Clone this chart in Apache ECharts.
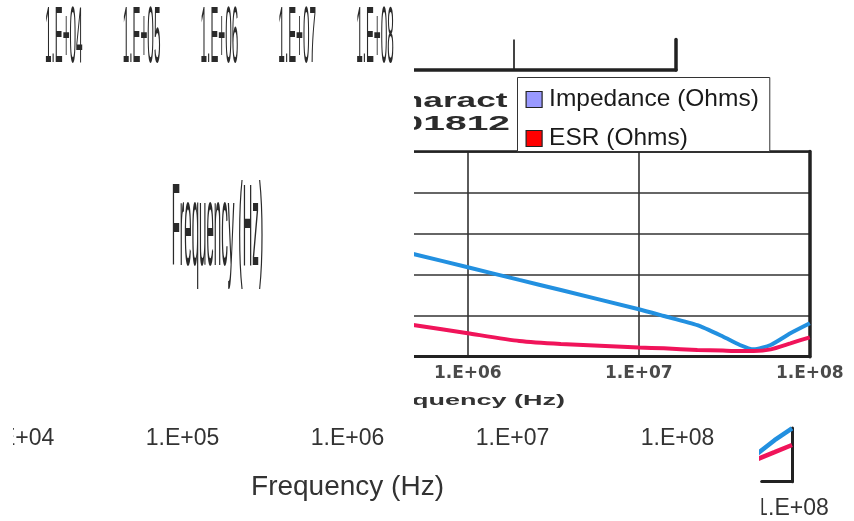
<!DOCTYPE html>
<html><head><meta charset="utf-8">
<script src="https://cdn.jsdelivr.net/npm/echarts@6/dist/echarts.min.js"></script>
<style>html,body{margin:0;padding:0;background:#fff}#c{width:854px;height:521px}</style>
</head><body><div id="c"></div>
<script>
// ---- data ----
const freqHz        = [4.8e5, 1e6, 2e6, 3.5e6, 1e7, 1.4e7, 2.2e7, 3.1e7, 3.9e7, 4.7e7, 5.9e7, 7.7e7, 1e8];
const impedanceOhms = [3.18, 1.51, 0.743, 0.422, 0.143, 0.098, 0.0586, 0.031, 0.0193, 0.0151, 0.0193, 0.0372, 0.0651];
const esrOhms       = [0.0592, 0.0372, 0.0241, 0.0204, 0.0168, 0.0160, 0.0146, 0.0141, 0.0138, 0.0138, 0.0151, 0.0212, 0.0297];
const seriesNames   = ['Impedance (Ohms)', 'ESR (Ohms)'];
const decadeLabels  = ['1.E+04', '1.E+05', '1.E+06', '1.E+07', '1.E+08'];
const axisTitle     = 'Frequency (Hz)';
const titleFragments = ['haract', '01812'];

const FONT = 'Liberation Sans, Arial, sans-serif';
const BLUE = '#2290e0', RED = '#f0145a';

function decadeLabel(v) {
  const l = Math.log10(v), e = Math.round(l);
  if (Math.abs(l - e) > 1e-6) return '';
  return decadeLabels[e - 4] || '';
}
const pairs = arr => freqHz.map((f, i) => [f, arr[i]]);
const off = { show: false };

const chart = echarts.init(document.getElementById('c'), null, { renderer: 'canvas' });

const squashed = decadeLabels.map((t, i) => ({
  type: 'text', x: 63.8 + i * 77.8, y: 40.5, scaleX: 0.513, scaleY: 3.45, z: 20,
  style: { text: t, fontSize: 23, fontFamily: FONT, fill: '#2a2a2a', align: 'center', verticalAlign: 'middle' }
}));

chart.setOption({
  animation: false,
  backgroundColor: '#fff',
  grid: [
    { left: 296.8, right: 44.2, top: 151.5, bottom: 164.3, outerBoundsMode: 'none', containLabel: false },
    { left: 17.5, right: 176.5, top: 415, bottom: 96, outerBoundsMode: 'none', containLabel: false },
    { left: 761.7, right: 62, top: 428, bottom: 39.3, outerBoundsMode: 'none', containLabel: false },
    { left: 414, right: 178, top: 39.5, bottom: 451, outerBoundsMode: 'none', containLabel: false }
  ],
  xAxis: [
    { gridIndex: 0, type: 'log', min: 1e5, max: 1e8, splitNumber: 3,
      axisLine: { show: true, lineStyle: { color: '#222', width: 3 } }, axisTick: off,
      axisLabel: { formatter: decadeLabel, fontSize: 17, fontWeight: 'bold', fontFamily: 'DejaVu Sans', color: '#4a4a4a', margin: 8 },
      splitLine: { show: true, showMaxLine: false, lineStyle: { color: '#333', width: 1.6 } } },
    { gridIndex: 0, type: 'log', min: 1e5, max: 1e8, position: 'top',
      axisLine: { show: true, lineStyle: { color: '#222', width: 2.5 } }, axisTick: off, axisLabel: off, splitLine: off },
    { gridIndex: 1, type: 'log', min: 1e4, max: 1e8, splitNumber: 4,
      axisLine: off, axisTick: off, splitLine: off,
      axisLabel: { formatter: decadeLabel, fontSize: 23, fontFamily: FONT, color: '#333', margin: 2 },
      name: axisTitle, nameLocation: 'middle', nameGap: 48,
      nameTextStyle: { fontSize: 28, fontFamily: FONT, color: '#333' } },
    { gridIndex: 2, type: 'log', min: 6.35e7, max: 1e8,
      axisLine: { show: true, lineStyle: { color: '#222', width: 3 } }, axisTick: off, splitLine: off,
      axisLabel: { formatter: decadeLabel, showMinLabel: false, fontSize: 23, fontFamily: FONT, color: '#333', margin: 15 } },
    { gridIndex: 3, type: 'log', min: 41783, max: 417830, position: 'top',
      axisLine: { show: true, lineStyle: { color: '#222', width: 3.5 } }, axisTick: off, axisLabel: off,
      splitLine: { show: true, showMinLine: false, showMaxLine: false, lineStyle: { color: '#444', width: 2 } } }
  ],
  yAxis: [
    { gridIndex: 0, type: 'log', min: 0.01, max: 1000, splitNumber: 5, position: 'right',
      axisLine: { show: true, lineStyle: { color: '#222', width: 3.5 } }, axisTick: off, axisLabel: off,
      splitLine: { show: true, showMinLine: false, lineStyle: { color: '#333', width: 1.6 } } },
    { gridIndex: 1, type: 'value', show: false },
    { gridIndex: 2, type: 'log', min: 0.0053, max: 0.066, position: 'right',
      axisLine: { show: true, lineStyle: { color: '#222', width: 3 } }, axisTick: off, axisLabel: off, splitLine: off },
    { gridIndex: 3, type: 'value', min: 0, max: 1, position: 'right',
      axisLine: { show: true, lineStyle: { color: '#222', width: 3.5 } }, axisTick: off, axisLabel: off, splitLine: off }
  ],
  legend: {
    orient: 'vertical', left: 517.5, top: 77.5, padding: [9, 11, 0, 8], itemGap: 13,
    itemWidth: 16, itemHeight: 16, icon: 'rect',
    backgroundColor: '#fff', borderColor: '#333', borderWidth: 1, z: 30,
    textStyle: { fontSize: 24.5, lineHeight: 26, fontFamily: FONT, color: '#1a1a1a', padding: [0, 0, 0, 2] },
    data: [
      { name: seriesNames[0], itemStyle: { color: '#9999ff', borderColor: '#222', borderWidth: 1.2 } },
      { name: seriesNames[1], itemStyle: { color: '#ff0000', borderColor: '#222', borderWidth: 1.2 } }
    ]
  },
  series: [
    { name: seriesNames[0], type: 'line', xAxisIndex: 0, yAxisIndex: 0, data: pairs(impedanceOhms),
      showSymbol: false, smooth: 0.2, lineStyle: { color: BLUE, width: 4 }, itemStyle: { color: BLUE } },
    { name: seriesNames[1], type: 'line', xAxisIndex: 0, yAxisIndex: 0, data: pairs(esrOhms),
      showSymbol: false, smooth: 0.2, lineStyle: { color: RED, width: 4 }, itemStyle: { color: RED } },
    { name: seriesNames[0], type: 'line', xAxisIndex: 3, yAxisIndex: 2, data: pairs(impedanceOhms),
      showSymbol: false, lineStyle: { color: BLUE, width: 4.5 }, itemStyle: { color: BLUE } },
    { name: seriesNames[1], type: 'line', xAxisIndex: 3, yAxisIndex: 2, data: pairs(esrOhms),
      showSymbol: false, lineStyle: { color: RED, width: 4.5 }, itemStyle: { color: RED } }
  ],
  graphic: [
    { type: 'text', x: 401.8, y: 101, scaleX: 1.76, z: 5,
      style: { text: titleFragments[0], fontSize: 20, fontWeight: 'bold', fontFamily: FONT, fill: '#2b2b2b', align: 'left', verticalAlign: 'middle' } },
    { type: 'text', x: 401.6, y: 124.5, scaleX: 1.95, z: 5,
      style: { text: titleFragments[1], fontSize: 20, fontWeight: 'bold', fontFamily: FONT, fill: '#2b2b2b', align: 'left', verticalAlign: 'middle' } },
    { type: 'text', x: 565, y: 400.5, scaleX: 1.8, z: 5,
      style: { text: axisTitle, fontSize: 15, fontWeight: 'bold', fontFamily: FONT, fill: '#333', align: 'right', verticalAlign: 'middle' } },
    { type: 'rect', shape: { x: 0, y: 37, width: 414, height: 376 }, style: { fill: '#fff' }, z: 10 },
    { type: 'rect', shape: { x: 0, y: 420, width: 13, height: 36 }, style: { fill: '#fff' }, z: 10 },
    { type: 'rect', shape: { x: 740, y: 490, width: 21.5, height: 31 }, style: { fill: '#fff' }, z: 10 },
    ...squashed,
    { type: 'text', x: 217.5, y: 233, scaleX: 0.475, scaleY: 4.16, z: 20,
      style: { text: axisTitle, fontSize: 28, fontFamily: FONT, fill: '#2a2a2a', align: 'center', verticalAlign: 'middle' } }
  ]
});
</script></body></html>
